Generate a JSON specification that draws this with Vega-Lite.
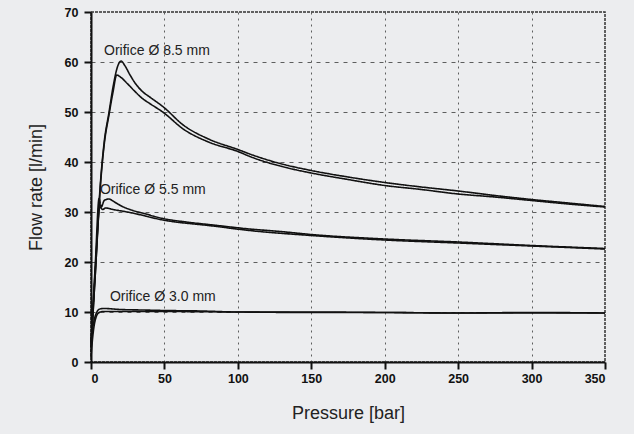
{
  "$schema": "https://vega.github.io/schema/vega-lite/v6.json",
  "width": 514,
  "height": 350,
  "autosize": "none",
  "padding": {"left": 91, "top": 12, "right": 29, "bottom": 72},
  "background": "#ecedef",
  "view": {"stroke": "#333", "strokeDash": [3, 1], "strokeWidth": 1.5},
  "config": {
    "font": "Liberation Sans",
    "axis": {
      "domainColor": "#111",
      "domainWidth": 2,
      "tickColor": "#111",
      "labelFont": "Liberation Sans",
      "labelFontWeight": 700,
      "labelFontSize": 12.5,
      "labelColor": "#111",
      "titleFont": "Liberation Sans",
      "titleFontWeight": "normal",
      "titleFontSize": 18,
      "titleColor": "#222",
      "gridColor": "#444",
      "gridWidth": 1
    }
  },
  "datasets": {
    "curves": [
      {"orifice": "8.5", "branch": "up", "p": 0, "q": 4},
      {"orifice": "8.5", "branch": "up", "p": 3, "q": 19},
      {"orifice": "8.5", "branch": "up", "p": 6.6, "q": 36.5},
      {"orifice": "8.5", "branch": "up", "p": 9, "q": 44},
      {"orifice": "8.5", "branch": "up", "p": 12.3, "q": 50},
      {"orifice": "8.5", "branch": "up", "p": 15, "q": 55},
      {"orifice": "8.5", "branch": "up", "p": 18, "q": 59},
      {"orifice": "8.5", "branch": "up", "p": 20.5, "q": 60.2},
      {"orifice": "8.5", "branch": "up", "p": 23, "q": 59.3},
      {"orifice": "8.5", "branch": "up", "p": 26.6, "q": 57.4},
      {"orifice": "8.5", "branch": "up", "p": 29.3, "q": 56.1},
      {"orifice": "8.5", "branch": "up", "p": 35, "q": 54.1},
      {"orifice": "8.5", "branch": "up", "p": 40, "q": 53},
      {"orifice": "8.5", "branch": "up", "p": 49.3, "q": 51},
      {"orifice": "8.5", "branch": "up", "p": 62.8, "q": 47.4},
      {"orifice": "8.5", "branch": "up", "p": 80, "q": 44.6},
      {"orifice": "8.5", "branch": "up", "p": 100, "q": 42.5},
      {"orifice": "8.5", "branch": "up", "p": 110, "q": 41.4},
      {"orifice": "8.5", "branch": "up", "p": 130, "q": 39.6},
      {"orifice": "8.5", "branch": "up", "p": 150, "q": 38.3},
      {"orifice": "8.5", "branch": "up", "p": 175, "q": 37},
      {"orifice": "8.5", "branch": "up", "p": 200, "q": 35.9},
      {"orifice": "8.5", "branch": "up", "p": 225, "q": 35},
      {"orifice": "8.5", "branch": "up", "p": 250, "q": 34.2},
      {"orifice": "8.5", "branch": "up", "p": 275, "q": 33.3},
      {"orifice": "8.5", "branch": "up", "p": 300, "q": 32.5},
      {"orifice": "8.5", "branch": "up", "p": 325, "q": 31.8},
      {"orifice": "8.5", "branch": "up", "p": 350, "q": 31.1},
      {"orifice": "8.5", "branch": "down", "p": 0, "q": 3},
      {"orifice": "8.5", "branch": "down", "p": 3, "q": 18},
      {"orifice": "8.5", "branch": "down", "p": 6.6, "q": 36},
      {"orifice": "8.5", "branch": "down", "p": 9, "q": 43.5},
      {"orifice": "8.5", "branch": "down", "p": 12.3, "q": 49.5},
      {"orifice": "8.5", "branch": "down", "p": 15, "q": 54},
      {"orifice": "8.5", "branch": "down", "p": 17.5, "q": 57.4},
      {"orifice": "8.5", "branch": "down", "p": 20, "q": 57},
      {"orifice": "8.5", "branch": "down", "p": 24.7, "q": 55.7},
      {"orifice": "8.5", "branch": "down", "p": 29.3, "q": 54.3},
      {"orifice": "8.5", "branch": "down", "p": 35, "q": 52.7},
      {"orifice": "8.5", "branch": "down", "p": 40, "q": 51.7},
      {"orifice": "8.5", "branch": "down", "p": 49.3, "q": 49.9},
      {"orifice": "8.5", "branch": "down", "p": 62.8, "q": 46.6},
      {"orifice": "8.5", "branch": "down", "p": 80, "q": 44},
      {"orifice": "8.5", "branch": "down", "p": 100, "q": 42.1},
      {"orifice": "8.5", "branch": "down", "p": 110, "q": 40.9},
      {"orifice": "8.5", "branch": "down", "p": 130, "q": 39.1},
      {"orifice": "8.5", "branch": "down", "p": 150, "q": 37.8},
      {"orifice": "8.5", "branch": "down", "p": 175, "q": 36.5},
      {"orifice": "8.5", "branch": "down", "p": 200, "q": 35.3},
      {"orifice": "8.5", "branch": "down", "p": 225, "q": 34.5},
      {"orifice": "8.5", "branch": "down", "p": 250, "q": 33.6},
      {"orifice": "8.5", "branch": "down", "p": 275, "q": 33},
      {"orifice": "8.5", "branch": "down", "p": 300, "q": 32.3},
      {"orifice": "8.5", "branch": "down", "p": 325, "q": 31.6},
      {"orifice": "8.5", "branch": "down", "p": 350, "q": 31},
      {"orifice": "5.5", "branch": "up", "p": 0, "q": 3},
      {"orifice": "5.5", "branch": "up", "p": 3, "q": 20},
      {"orifice": "5.5", "branch": "up", "p": 5.5, "q": 32.7},
      {"orifice": "5.5", "branch": "up", "p": 7, "q": 31},
      {"orifice": "5.5", "branch": "up", "p": 9, "q": 32.3},
      {"orifice": "5.5", "branch": "up", "p": 12, "q": 32.6},
      {"orifice": "5.5", "branch": "up", "p": 16, "q": 32},
      {"orifice": "5.5", "branch": "up", "p": 20, "q": 31.3},
      {"orifice": "5.5", "branch": "up", "p": 26.5, "q": 30.5},
      {"orifice": "5.5", "branch": "up", "p": 35, "q": 29.8},
      {"orifice": "5.5", "branch": "up", "p": 49, "q": 28.7},
      {"orifice": "5.5", "branch": "up", "p": 65, "q": 28},
      {"orifice": "5.5", "branch": "up", "p": 83, "q": 27.4},
      {"orifice": "5.5", "branch": "up", "p": 108, "q": 26.6},
      {"orifice": "5.5", "branch": "up", "p": 129, "q": 26.1},
      {"orifice": "5.5", "branch": "up", "p": 150, "q": 25.5},
      {"orifice": "5.5", "branch": "up", "p": 200, "q": 24.6},
      {"orifice": "5.5", "branch": "up", "p": 250, "q": 24},
      {"orifice": "5.5", "branch": "up", "p": 300, "q": 23.3},
      {"orifice": "5.5", "branch": "up", "p": 350, "q": 22.7},
      {"orifice": "5.5", "branch": "down", "p": 0, "q": 2},
      {"orifice": "5.5", "branch": "down", "p": 3, "q": 18},
      {"orifice": "5.5", "branch": "down", "p": 6, "q": 31},
      {"orifice": "5.5", "branch": "down", "p": 8, "q": 30.5},
      {"orifice": "5.5", "branch": "down", "p": 10, "q": 30.8},
      {"orifice": "5.5", "branch": "down", "p": 15, "q": 30.5},
      {"orifice": "5.5", "branch": "down", "p": 26.5, "q": 29.9},
      {"orifice": "5.5", "branch": "down", "p": 49, "q": 28.4},
      {"orifice": "5.5", "branch": "down", "p": 83, "q": 27.2},
      {"orifice": "5.5", "branch": "down", "p": 108, "q": 26.3},
      {"orifice": "5.5", "branch": "down", "p": 150, "q": 25.3},
      {"orifice": "5.5", "branch": "down", "p": 200, "q": 24.4},
      {"orifice": "5.5", "branch": "down", "p": 250, "q": 23.8},
      {"orifice": "5.5", "branch": "down", "p": 300, "q": 23.2},
      {"orifice": "5.5", "branch": "down", "p": 350, "q": 22.6},
      {"orifice": "3.0", "branch": "up", "p": 0, "q": 4},
      {"orifice": "3.0", "branch": "up", "p": 1, "q": 6.5},
      {"orifice": "3.0", "branch": "up", "p": 2.5, "q": 8.8},
      {"orifice": "3.0", "branch": "up", "p": 4, "q": 10},
      {"orifice": "3.0", "branch": "up", "p": 6, "q": 10.6},
      {"orifice": "3.0", "branch": "up", "p": 9, "q": 10.7},
      {"orifice": "3.0", "branch": "up", "p": 20, "q": 10.5},
      {"orifice": "3.0", "branch": "up", "p": 35, "q": 10.4},
      {"orifice": "3.0", "branch": "up", "p": 50, "q": 10.3},
      {"orifice": "3.0", "branch": "up", "p": 75, "q": 10.2},
      {"orifice": "3.0", "branch": "up", "p": 100, "q": 10},
      {"orifice": "3.0", "branch": "up", "p": 150, "q": 10},
      {"orifice": "3.0", "branch": "up", "p": 200, "q": 9.9},
      {"orifice": "3.0", "branch": "up", "p": 250, "q": 9.8},
      {"orifice": "3.0", "branch": "up", "p": 300, "q": 9.9},
      {"orifice": "3.0", "branch": "up", "p": 350, "q": 9.8},
      {"orifice": "3.0", "branch": "down", "p": 0, "q": 1},
      {"orifice": "3.0", "branch": "down", "p": 1, "q": 4.5},
      {"orifice": "3.0", "branch": "down", "p": 2, "q": 7},
      {"orifice": "3.0", "branch": "down", "p": 3.5, "q": 9},
      {"orifice": "3.0", "branch": "down", "p": 5, "q": 9.8},
      {"orifice": "3.0", "branch": "down", "p": 8, "q": 10.1},
      {"orifice": "3.0", "branch": "down", "p": 20, "q": 10.1},
      {"orifice": "3.0", "branch": "down", "p": 50, "q": 10.1},
      {"orifice": "3.0", "branch": "down", "p": 100, "q": 10},
      {"orifice": "3.0", "branch": "down", "p": 150, "q": 9.9},
      {"orifice": "3.0", "branch": "down", "p": 200, "q": 9.9},
      {"orifice": "3.0", "branch": "down", "p": 250, "q": 9.8},
      {"orifice": "3.0", "branch": "down", "p": 300, "q": 9.8},
      {"orifice": "3.0", "branch": "down", "p": 350, "q": 9.8}
    ],
    "labels": [
      {"p": 8.9, "q": 62.3, "text": "Orifice Ø 8.5 mm"},
      {"p": 6.1, "q": 34.5, "text": "Orifice Ø 5.5 mm"},
      {"p": 12.9, "q": 13.1, "text": "Orifice Ø 3.0 mm"}
    ]
  },
  "layer": [
    {
      "data": {"name": "curves"},
      "mark": {"type": "line", "color": "#111", "strokeWidth": 1.6, "interpolate": "monotone"},
      "encoding": {
        "x": {
          "field": "p", "type": "quantitative",
          "scale": {"domain": [0, 350], "nice": false, "zero": false},
          "axis": {
            "title": "Pressure [bar]",
            "values": [0, 25, 50, 75, 100, 125, 150, 175, 200, 225, 250, 275, 300, 325, 350],
            "labelExpr": "datum.value % 50 == 0 ? datum.label : ''",
            "tickSize": {"condition": {"test": "datum.value % 50 == 0", "value": 7}, "value": 5},
            "tickWidth": {"condition": {"test": "datum.value % 50 == 0", "value": 2}, "value": 1.5},
            "gridOpacity": {"condition": {"test": "datum.value % 50 == 0 && datum.value > 0 && datum.value < 350", "value": 0.85}, "value": 0},
            "gridDash": [2, 4],
            "labelPadding": 3,
            "titlePadding": 20
          }
        },
        "y": {
          "field": "q", "type": "quantitative",
          "scale": {"domain": [0, 70], "nice": false},
          "axis": {
            "title": "Flow rate [l/min]",
            "values": [0, 5, 10, 15, 20, 25, 30, 35, 40, 45, 50, 55, 60, 65, 70],
            "labelExpr": "datum.value % 10 == 0 ? datum.label : ''",
            "tickSize": {"condition": {"test": "datum.value % 10 == 0", "value": 7}, "value": 5},
            "tickWidth": {"condition": {"test": "datum.value % 10 == 0", "value": 2}, "value": 1.5},
            "gridOpacity": {"condition": {"test": "datum.value % 10 == 0 && datum.value > 0 && datum.value < 70", "value": 0.85}, "value": 0},
            "gridDash": [4, 5],
            "labelPadding": 6,
            "titlePadding": 19
          }
        },
        "detail": {"field": "branch"},
        "strokeDash": {"field": "orifice", "legend": null, "scale": {"range": [[1, 0]]}},
        "order": {"field": "p", "type": "quantitative"}
      }
    },
    {
      "data": {"name": "labels"},
      "mark": {"type": "text", "align": "left", "baseline": "middle", "fontSize": 14, "font": "Liberation Sans", "color": "#222"},
      "encoding": {
        "x": {"field": "p", "type": "quantitative"},
        "y": {"field": "q", "type": "quantitative"},
        "text": {"field": "text"}
      }
    }
  ]
}
